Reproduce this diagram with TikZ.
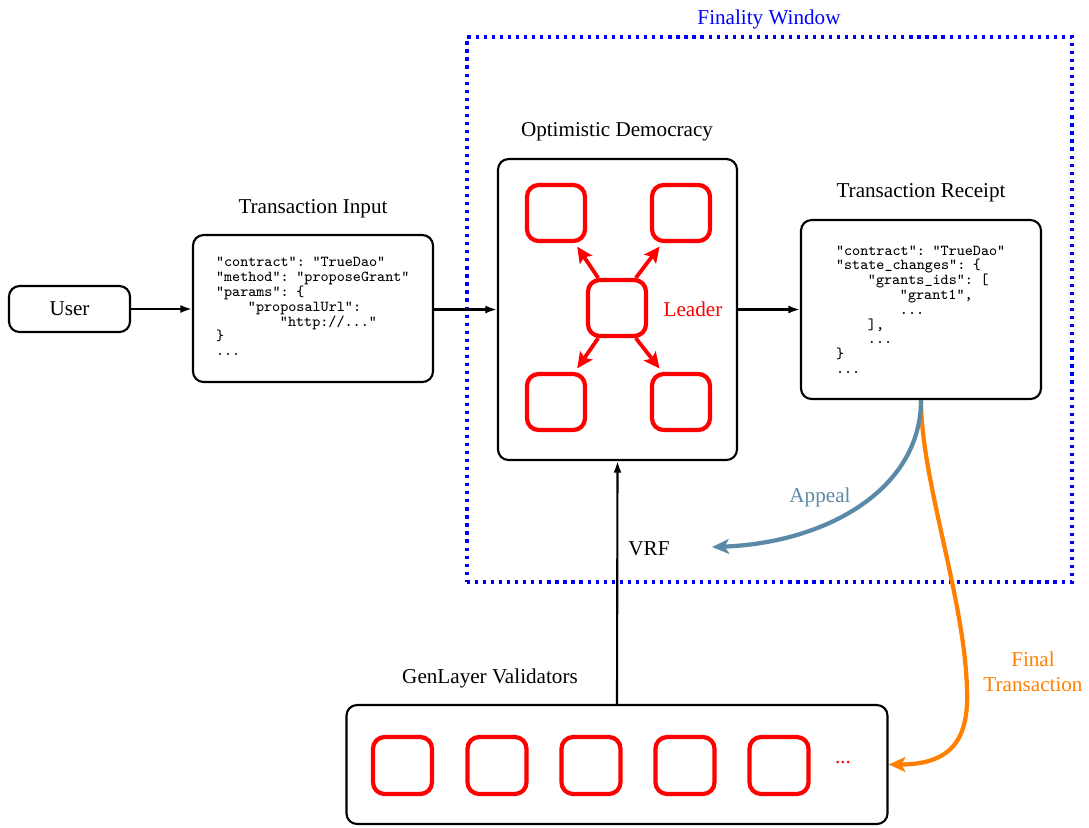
\documentclass[tikz,border=0pt]{standalone}
\usepackage{fontspec}
\setmainfont{Liberation Serif}
\usetikzlibrary{arrows.meta,calc}

\definecolor{appealblue}{RGB}{91,138,168}
\definecolor{finalorange}{RGB}{255,128,0}

% one drawing unit of the picture, in points
\def\pxu{0.473pt}

\tikzset{
  panel/.style 2 args={draw=black, line width=1pt, rounded corners=5pt, fill=white,
    minimum width=#1*\pxu, minimum height=#2*\pxu, inner sep=0pt},
  member/.style={draw=red, line width=2pt, rounded corners=5.5pt,
    minimum width=58*\pxu, minimum height=56*\pxu, inner sep=0pt},
  title/.style={font=\fontsize{10}{12}\selectfont},
  codetext/.style={font=\ttfamily\fontsize{7.2}{7.0}\selectfont, align=left},
  flow/.style={draw=black, line width=1pt, -{Latex[length=5.5pt,width=3.8pt]}},
  spread/.style={draw=red, line width=1.8pt, -{Stealth[length=7.5pt,width=7pt,inset=1.5pt]}, shorten >=2pt},
  window/.style={draw=blue, line width=1.5pt, dash pattern=on 1.5pt off 2.3pt,
    minimum width=605*\pxu, minimum height=545*\pxu, inner sep=0pt},
  appealarrow/.style={draw=appealblue, line width=2pt, -{Stealth[length=8pt,width=7pt,inset=2pt]}},
  finalarrow/.style={draw=finalorange, line width=2pt, -{Stealth[length=8pt,width=7pt,inset=2pt]}},
}

\begin{document}
\begin{tikzpicture}[x=0.473pt, y=-0.473pt]
  \fill[white] (0,0) rectangle (1089,827);
  \useasboundingbox (0,0) rectangle (1089,827);

  % finality window
  \node[window] (fw) at (769.5,309.5) {};
  \node[title, text=blue] (fwlabel) at (769,19) {Finality Window};

  % user and transaction input
  \node[panel={121}{46}, title] (user) at (69.5,309) {User};

  \node[panel={240}{147}] (input) at (313,308.5) {};
  \node[codetext, text width=194*\pxu, anchor=north] (inputcode) at (313,250) {%
"contract": "TrueDao"\\
"method": "proposeGrant"\\
"params": \{\\
\hspace*{2.1em}"proposalUrl":\\
\hspace*{4.2em}"http://..."\\
\}\\
...};
  \node[title] (inputtitle) at (313,209) {Transaction Input};

  % optimistic democracy
  \node[panel={239}{301}] (od) at (617.5,309.5) {};
  \node[title] (odtitle) at (617,132) {Optimistic Democracy};
  \node[member] (tl) at (556,213) {};
  \node[member] (tr) at (681,213) {};
  \node[member] (lead) at (617,308) {};
  \node[member] (bl) at (556,402) {};
  \node[member] (br) at (681,402) {};
  \node[title, text=red] (leadlabel) at (693,309) {Leader};
  \draw[spread] (lead.122) -- (tl.-58);
  \draw[spread] (lead.58) -- (tr.-122);
  \draw[spread] (lead.-122) -- (bl.58);
  \draw[spread] (lead.-58) -- (br.122);

  % transaction receipt
  \node[panel={240}{179}, codetext, text width=170*\pxu] (receipt) at (921,309.5) {%
"contract": "TrueDao"\\
"state\_changes": \{\\
\hspace*{2.1em}"grants\_ids": [\\
\hspace*{4.2em}"grant1",\\
\hspace*{4.2em}...\\
\hspace*{2.1em}],\\
\hspace*{2.1em}...\\
\}\\
...};
  \node[title] (receipttitle) at (921,193) {Transaction Receipt};

  % validators
  \node[panel={541}{119}] (val) at (617,764.5) {};
  \node[title] (valtitle) at (490,678) {GenLayer Validators};
  \node[member, minimum width=59*\pxu, minimum height=57*\pxu] (v1) at (402.5,765.5) {};
  \node[member, minimum width=59*\pxu, minimum height=57*\pxu] (v2) at (497,765.5) {};
  \node[member, minimum width=59*\pxu, minimum height=57*\pxu] (v3) at (591,765.5) {};
  \node[member, minimum width=59*\pxu, minimum height=57*\pxu] (v4) at (685,765.5) {};
  \node[member, minimum width=59*\pxu, minimum height=57*\pxu] (v5) at (779,765.5) {};
  \node[title, text=red] (vmore) at (843,763) {...};

  % main flow
  \draw[flow] (user.east) -- (user.east -| input.west);
  \draw[flow] (input.east |- od.west) -- (od.west);
  \draw[flow] (od) -- (receipt);
  \draw[flow] (val.north) -- (od.south);
  \node[title] (vrf) at (649,549) {VRF};

  % appeal and finalisation
  \coordinate (appealend) at (712,547);
  \coordinate (finalmid) at (967,690);
  \draw[finalarrow] (receipt.south) .. controls +(0,80) and +(-2,-90) .. (finalmid)
        .. controls +(2,50) and +(62,0) .. (val.east);
  \draw[appealarrow] (receipt.south) .. controls +(0,90) and +(113,-4) .. (appealend);
  \node[title, text=appealblue] (appeallabel) at (820,497) {Appeal};
  \node[title, text=finalorange, align=center] (finallabel) at (1033,672) {Final\\Transaction};
\end{tikzpicture}
\end{document}
